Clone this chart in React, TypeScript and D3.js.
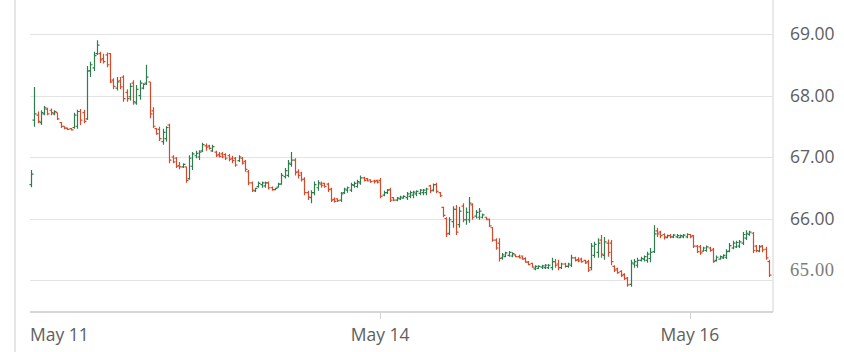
import React, { useEffect, useRef } from "react";
import * as d3 from "d3";

// [open, high, low, close], one per half-hour bar
const ohlc: number[][] = [
  [66.55, 66.79, 66.51, 66.72], [67.6, 68.14, 67.49, 67.7], [67.68, 67.74, 67.55, 67.58], [67.56, 67.76, 67.52, 67.72],
  [67.7, 67.83, 67.68, 67.8], [67.78, 67.8, 67.68, 67.7], [67.76, 67.79, 67.68, 67.72], [67.7, 67.76, 67.68, 67.74],
  [67.72, 67.72, 67.6, 67.62], [67.56, 67.57, 67.47, 67.5], [67.5, 67.5, 67.45, 67.47], [67.47, 67.48, 67.44, 67.45],
  [67.46, 67.47, 67.43, 67.44], [67.48, 67.72, 67.46, 67.68], [67.5, 67.77, 67.46, 67.74], [67.74, 67.78, 67.52, 67.6],
  [67.72, 67.77, 67.55, 67.58], [67.62, 68.48, 67.6, 68.4], [68.4, 68.55, 68.3, 68.5], [68.45, 68.71, 68.4, 68.65],
  [68.68, 68.9, 68.66, 68.82], [68.68, 68.71, 68.53, 68.58], [68.6, 68.68, 68.52, 68.55], [68.66, 68.7, 68.46, 68.5],
  [68.68, 68.69, 68.2, 68.22], [68.25, 68.28, 68.1, 68.15], [68.12, 68.3, 68.08, 68.22], [68.24, 68.3, 68.1, 68.14],
  [68.3, 68.33, 67.9, 67.95], [68.05, 68.1, 67.9, 67.95], [67.98, 68.2, 67.92, 68.15], [68.2, 68.25, 67.85, 67.9],
  [67.88, 68.17, 67.85, 68.1], [68.0, 68.25, 67.93, 68.2], [68.12, 68.2, 68.1, 68.18], [68.2, 68.5, 68.17, 68.3],
  [68.22, 68.22, 67.63, 67.7], [67.75, 67.81, 67.47, 67.5], [67.46, 67.47, 67.36, 67.38], [67.45, 67.49, 67.26, 67.3],
  [67.25, 67.46, 67.2, 67.4], [67.3, 67.5, 67.25, 67.48], [67.52, 67.54, 66.9, 66.95], [67.0, 67.03, 66.9, 66.92],
  [66.98, 67.0, 66.82, 66.85], [66.86, 66.92, 66.8, 66.84], [66.84, 66.9, 66.82, 66.88], [66.84, 66.84, 66.58, 66.62],
  [66.65, 67.03, 66.63, 66.98], [66.85, 67.08, 66.79, 67.05], [67.02, 67.1, 66.98, 67.06], [67.0, 67.11, 66.95, 67.08],
  [67.1, 67.23, 67.08, 67.2], [67.18, 67.22, 67.1, 67.16], [67.18, 67.2, 67.12, 67.14], [67.1, 67.2, 67.08, 67.17],
  [67.08, 67.1, 67.0, 67.02], [67.04, 67.08, 66.99, 67.01], [67.05, 67.08, 66.98, 67.0], [67.04, 67.06, 66.95, 66.98],
  [67.02, 67.05, 66.93, 66.96], [66.98, 67.02, 66.9, 66.94], [66.98, 67.0, 66.84, 66.87], [66.94, 67.03, 66.92, 67.0],
  [66.98, 67.0, 66.88, 66.9], [66.93, 66.95, 66.76, 66.8], [66.76, 66.79, 66.54, 66.58], [66.58, 66.6, 66.43, 66.46],
  [66.45, 66.5, 66.43, 66.49], [66.52, 66.6, 66.5, 66.57], [66.55, 66.6, 66.5, 66.58], [66.53, 66.6, 66.5, 66.58],
  [66.58, 66.6, 66.47, 66.5], [66.5, 66.52, 66.45, 66.47], [66.47, 66.5, 66.46, 66.49], [66.51, 66.58, 66.5, 66.56],
  [66.56, 66.74, 66.55, 66.7], [66.68, 66.82, 66.65, 66.78], [66.7, 66.95, 66.67, 66.9], [66.88, 67.08, 66.84, 66.95],
  [66.95, 66.98, 66.7, 66.75], [66.76, 66.8, 66.65, 66.7], [66.74, 66.76, 66.6, 66.63], [66.64, 66.67, 66.38, 66.42],
  [66.42, 66.45, 66.3, 66.35], [66.34, 66.46, 66.25, 66.42], [66.42, 66.6, 66.38, 66.55], [66.5, 66.62, 66.45, 66.58],
  [66.56, 66.6, 66.5, 66.54], [66.57, 66.58, 66.5, 66.52], [66.56, 66.58, 66.43, 66.47], [66.48, 66.5, 66.27, 66.3],
  [66.31, 66.34, 66.26, 66.28], [66.32, 66.33, 66.27, 66.29], [66.3, 66.43, 66.27, 66.4], [66.42, 66.5, 66.4, 66.48],
  [66.46, 66.52, 66.42, 66.5], [66.46, 66.58, 66.43, 66.55], [66.54, 66.6, 66.5, 66.57], [66.52, 66.63, 66.5, 66.6],
  [66.58, 66.7, 66.55, 66.66], [66.66, 66.68, 66.6, 66.62], [66.65, 66.66, 66.6, 66.61], [66.63, 66.64, 66.58, 66.6],
  [66.61, 66.63, 66.57, 66.6], [66.62, 66.63, 66.57, 66.59], [66.62, 66.66, 66.33, 66.36], [66.38, 66.45, 66.36, 66.42],
  [66.42, 66.48, 66.4, 66.46], [66.47, 66.5, 66.27, 66.3], [66.34, 66.35, 66.28, 66.3], [66.3, 66.35, 66.28, 66.33],
  [66.32, 66.37, 66.3, 66.35], [66.33, 66.38, 66.32, 66.36], [66.34, 66.43, 66.3, 66.4], [66.36, 66.45, 66.33, 66.42],
  [66.38, 66.45, 66.33, 66.43], [66.4, 66.46, 66.36, 66.44], [66.41, 66.48, 66.38, 66.46], [66.42, 66.48, 66.38, 66.46],
  [66.42, 66.5, 66.38, 66.48], [66.53, 66.55, 66.41, 66.45], [66.46, 66.57, 66.44, 66.55], [66.55, 66.58, 66.41, 66.44],
  [66.42, 66.43, 66.35, 66.37], [66.18, 66.19, 66.02, 66.05], [66.0, 66.02, 65.7, 65.75], [65.76, 66.02, 65.73, 65.98],
  [65.95, 66.2, 65.85, 66.15], [66.15, 66.22, 65.73, 65.78], [65.9, 66.19, 65.85, 66.12], [66.2, 66.25, 65.94, 65.98],
  [65.98, 66.18, 65.9, 66.1], [65.98, 66.35, 65.93, 66.25], [66.22, 66.25, 65.98, 66.02], [66.04, 66.14, 66.0, 66.1],
  [66.02, 66.17, 65.98, 66.12], [66.02, 66.08, 66.0, 66.06], [66.02, 66.03, 65.97, 65.99], [65.98, 66.0, 65.86, 65.88],
  [65.85, 65.86, 65.62, 65.65], [65.65, 65.68, 65.49, 65.52], [65.6, 65.68, 65.3, 65.35], [65.36, 65.44, 65.33, 65.41],
  [65.38, 65.46, 65.37, 65.44], [65.4, 65.47, 65.38, 65.45], [65.39, 65.45, 65.37, 65.43], [65.41, 65.42, 65.37, 65.38],
  [65.38, 65.41, 65.35, 65.36], [65.39, 65.4, 65.33, 65.34], [65.35, 65.37, 65.28, 65.29], [65.29, 65.31, 65.24, 65.25],
  [65.27, 65.28, 65.2, 65.21], [65.18, 65.24, 65.16, 65.22], [65.19, 65.24, 65.18, 65.22], [65.21, 65.25, 65.18, 65.23],
  [65.2, 65.26, 65.18, 65.24], [65.2, 65.26, 65.18, 65.24], [65.2, 65.36, 65.16, 65.3], [65.3, 65.34, 65.2, 65.24],
  [65.26, 65.33, 65.16, 65.2], [65.2, 65.28, 65.18, 65.26], [65.26, 65.28, 65.2, 65.22], [65.22, 65.28, 65.2, 65.26],
  [65.24, 65.41, 65.21, 65.36], [65.36, 65.38, 65.3, 65.32], [65.33, 65.37, 65.29, 65.31], [65.34, 65.36, 65.28, 65.3],
  [65.32, 65.33, 65.26, 65.28], [65.3, 65.33, 65.13, 65.16], [65.2, 65.6, 65.16, 65.55], [65.4, 65.62, 65.36, 65.58],
  [65.45, 65.68, 65.36, 65.6], [65.65, 65.73, 65.36, 65.42], [65.4, 65.7, 65.33, 65.62], [65.6, 65.66, 65.38, 65.45],
  [65.6, 65.65, 65.24, 65.3], [65.22, 65.24, 65.13, 65.16], [65.18, 65.2, 65.1, 65.12], [65.14, 65.16, 65.05, 65.07],
  [65.09, 65.11, 65.0, 65.02], [65.03, 65.05, 64.89, 64.92], [64.93, 65.33, 64.89, 65.28], [65.26, 65.34, 65.2, 65.3],
  [65.24, 65.36, 65.2, 65.32], [65.32, 65.38, 65.3, 65.35], [65.34, 65.4, 65.3, 65.38], [65.32, 65.46, 65.28, 65.42],
  [65.35, 65.52, 65.29, 65.45], [65.46, 65.89, 65.44, 65.75], [65.8, 65.85, 65.7, 65.75], [65.78, 65.8, 65.68, 65.72],
  [65.74, 65.76, 65.66, 65.7], [65.69, 65.74, 65.68, 65.72], [65.72, 65.75, 65.68, 65.7], [65.7, 65.75, 65.68, 65.73],
  [65.7, 65.75, 65.68, 65.72], [65.69, 65.74, 65.68, 65.72], [65.7, 65.75, 65.68, 65.73], [65.7, 65.76, 65.68, 65.74],
  [65.74, 65.75, 65.68, 65.7], [65.72, 65.73, 65.52, 65.55], [65.55, 65.57, 65.44, 65.46], [65.54, 65.57, 65.41, 65.44],
  [65.47, 65.54, 65.46, 65.52], [65.48, 65.56, 65.46, 65.54], [65.52, 65.54, 65.46, 65.48], [65.5, 65.52, 65.28, 65.3],
  [65.32, 65.4, 65.3, 65.37], [65.34, 65.4, 65.33, 65.38], [65.36, 65.42, 65.34, 65.4], [65.37, 65.5, 65.34, 65.46],
  [65.47, 65.6, 65.45, 65.56], [65.52, 65.64, 65.5, 65.6], [65.54, 65.64, 65.52, 65.61], [65.55, 65.65, 65.52, 65.62],
  [65.6, 65.78, 65.57, 65.74], [65.68, 65.81, 65.65, 65.76], [65.74, 65.8, 65.72, 65.78], [65.76, 65.78, 65.44, 65.48],
  [65.55, 65.57, 65.45, 65.48], [65.47, 65.57, 65.45, 65.54], [65.55, 65.57, 65.45, 65.49], [65.5, 65.54, 65.33, 65.36],
  [65.3, 65.33, 65.05, 65.08],
];

const xTickIndex = [0, 106, 200];
const xTickLabels = ["May 11", "May 14", "May 16"];
const yTicks = [65, 66, 67, 68, 69];

const width = 844;
const height = 352;
const upColor = "#2f7d4e";
const downColor = "#d64a2c";
const font = "'Open Sans', sans-serif";

export default function App() {
  const ref = useRef<SVGSVGElement>(null);

  useEffect(() => {
    const svg = d3.select(ref.current);
    svg.selectAll("*").remove();

    const left = 30;
    const right = 773;
    const bottom = 312;

    const x = d3.scaleLinear().domain([0, ohlc.length - 1]).range([31, 769]);
    const y = d3.scaleLinear().domain([65, 69]).range([280, 34]);

    // frame lines
    svg.append("line").attr("x1", 15).attr("x2", 15).attr("y1", 0).attr("y2", height)
      .attr("stroke", "#dcdcdc").attr("stroke-width", 1.5);
    svg.append("line").attr("x1", right).attr("x2", right).attr("y1", 0).attr("y2", bottom)
      .attr("stroke", "#e2e2e2").attr("stroke-width", 1.5);

    // gridlines
    svg.selectAll(".grid").data(yTicks).enter().append("line")
      .attr("class", "grid")
      .attr("x1", left).attr("x2", right)
      .attr("y1", (d) => Math.round(y(d)) + 0.5).attr("y2", (d) => Math.round(y(d)) + 0.5)
      .attr("stroke", "#e4e4e4").attr("stroke-width", 1.2);

    svg.append("line").attr("x1", left).attr("x2", right).attr("y1", bottom).attr("y2", bottom)
      .attr("stroke", "#d6d6d6").attr("stroke-width", 2);

    // y labels (the last price label is drawn in a lighter serif face, as in the source)
    svg.selectAll(".ylab").data(yTicks).enter().append("text")
      .attr("class", "ylab")
      .attr("x", 790)
      .attr("y", (d) => y(d) + (d === 65 ? -10 : 0))
      .attr("dy", "0.35em")
      .attr("font-family", (d) => (d === 65 ? "'Liberation Serif', serif" : font))
      .attr("font-size", (d) => (d === 65 ? 18.5 : 17.5))
      .attr("letter-spacing", (d) => (d === 65 ? 0.6 : 0))
      .attr("fill", (d) => (d === 65 ? "#7c7c7c" : "#606060"))
      .text((d) => d3.format(".2f")(d));

    // x ticks and labels
    const xt = svg.selectAll(".xtick").data(xTickIndex).enter().append("g").attr("class", "xtick");
    xt.filter((d, i) => i > 0).append("line")
      .attr("x1", (d) => Math.round(x(d)) + 0.5).attr("x2", (d) => Math.round(x(d)) + 0.5)
      .attr("y1", bottom).attr("y2", bottom + 7)
      .attr("stroke", "#d0d0d0").attr("stroke-width", 1);
    xt.append("text")
      .attr("x", (d, i) => (i === 0 ? left : x(d)))
      .attr("y", 341)
      .attr("text-anchor", (d, i) => (i === 0 ? "start" : "middle"))
      .attr("font-family", font)
      .attr("font-size", 17.5)
      .attr("fill", "#606060")
      .text((d, i) => xTickLabels[i]);

    // ohlc bars
    svg.append("g").selectAll("path").data(ohlc).enter().append("path")
      .attr("d", (d, i) => {
        const [o, h, l, c] = d;
        const cx = Math.round(x(i)) + 0.5;
        const hi = Math.max(h, o, c);
        const lo = Math.min(l, o, c);
        return `M${cx},${y(lo)}V${y(hi)}M${cx - 2},${y(o)}H${cx}M${cx},${y(c)}H${cx + 2}`;
      })
      .attr("fill", "none")
      .attr("stroke", (d) => (d[3] >= d[0] ? upColor : downColor))
      .attr("stroke-width", 1.2);
  }, []);

  return (
    <svg
      ref={ref}
      width={width}
      height={height}
      style={{ position: "absolute", left: 0, top: 0, background: "#fff" }}
    ></svg>
  );
}
